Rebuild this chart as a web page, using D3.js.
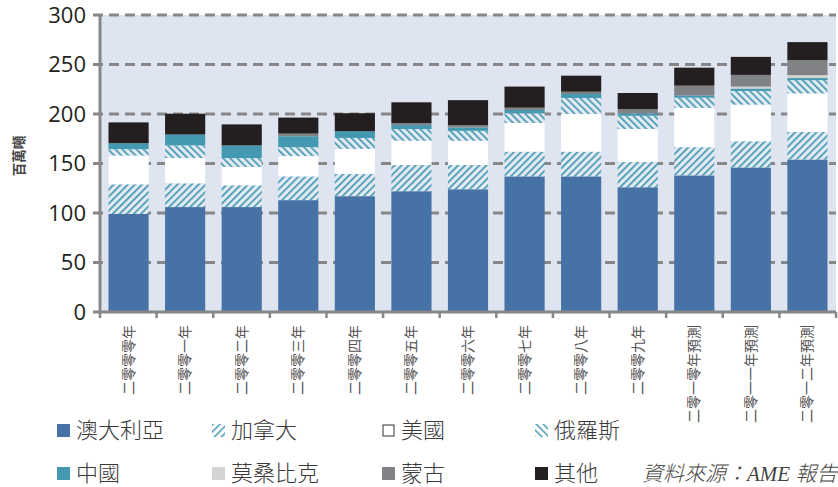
<!DOCTYPE html>
<html>
<head>
<meta charset="utf-8">
<script src="https://cdn.jsdelivr.net/npm/d3@7"></script>
<style>
  html, body { margin: 0; padding: 0; background: #ffffff; }
  svg { display: block; }
</style>
</head>
<body>
<svg id="chart" width="838" height="487"></svg>
<script>
// ---- data (million tonnes) ----
const categories = ["二零零零年","二零零一年","二零零二年","二零零三年","二零零四年","二零零五年","二零零六年","二零零七年","二零零八年","二零零九年","二零一零年預測","二零一一年預測","二零一二年預測"];
const australia  = [99, 106, 106, 113, 117, 122, 124, 137, 137, 126, 138, 146, 154];
const canada     = [30, 24, 22, 24, 22.5, 26.5, 24.5, 25, 25, 25.5, 28.5, 26.5, 27.8];
const usa        = [29, 25.5, 18.5, 20.5, 25.3, 24.5, 24.5, 29, 38, 33.3, 39.6, 37, 39];
const russia     = [6.5, 12.8, 9, 9, 11, 11.8, 10, 9.7, 16.2, 13.5, 10.4, 13.8, 13.4];
const china      = [6, 11, 12.8, 11, 6.8, 4, 3.4, 3.4, 4, 2.4, 2.3, 2.4, 2.1];
const mozambique = [0, 0, 0, 0, 0, 0, 0, 0, 0, 0, 0, 2, 3];
const mongolia   = [0, 0, 0, 2.7, 0, 2, 2.4, 2.3, 2.3, 4.3, 9.8, 11.8, 15.1];
const others     = [21, 21, 21.2, 16.2, 18.2, 21, 25.2, 21.3, 16.2, 16.2, 18.2, 18.2, 18.2];
const seriesNames = ["澳大利亞","加拿大","美國","俄羅斯","中國","莫桑比克","蒙古","其他"];
const yTicks = [0, 50, 100, 150, 200, 250, 300];
const yTitle = "百萬噸";
const sourceText = "資料來源：AME 報告";

// ---- build table ----
const seriesData = [australia, canada, usa, russia, china, mozambique, mongolia, others];
const keys = ["aus","can","usa","rus","chn","moz","mng","oth"];
const table = categories.map((c, i) => {
  const row = { cat: c };
  keys.forEach((k, j) => row[k] = seriesData[j][i]);
  return row;
});

const fills = {
  aus: "#4672a6",
  can: "url(#hatchCan)",
  usa: "#ffffff",
  rus: "url(#hatchRus)",
  chn: "#4499b0",
  moz: "#d1d3d4",
  mng: "#808285",
  oth: "#231f20"
};
const legendFills = Object.assign({}, fills, { can: "url(#legCan)", rus: "url(#legRus)" });

const svg = d3.select("#chart");
const defs = svg.append("defs");

function hatch(id, angle, bg, size, sw) {
  const p = defs.append("pattern")
    .attr("id", id).attr("patternUnits", "userSpaceOnUse")
    .attr("width", size).attr("height", size)
    .attr("patternTransform", `rotate(${angle})`);
  if (bg) p.append("rect").attr("width", size).attr("height", size).attr("fill", bg);
  p.append("rect").attr("x", 0).attr("y", 0).attr("width", sw).attr("height", size).attr("fill", "#4499b0");
}
hatch("hatchCan", 45, "#e3eaf3", 5, 1.7);
hatch("hatchRus", -45, "#e3eaf3", 5, 1.7);
hatch("legCan", 45, null, 5, 1.5);
hatch("legRus", -45, null, 5, 1.5);

// ---- scales ----
const pLeft = 100, pRight = 836, pTop = 15, pBottom = 312;
const x = d3.scaleBand().domain(categories).range([pLeft, pRight]).paddingInner(0.29).paddingOuter(0.15);
const y = d3.scaleLinear().domain([0, 300]).range([pBottom, pTop]);

// background
svg.append("rect")
  .attr("x", pLeft + 1).attr("y", y(300)).attr("width", pRight - 1 - pLeft).attr("height", y(0) - y(300))
  .attr("fill", "#dee5f1");

// grid
svg.append("g").selectAll("line").data(yTicks.filter(d => d > 0)).join("line")
  .attr("x1", pLeft - 7).attr("x2", pRight)
  .attr("y1", d => y(d)).attr("y2", d => y(d))
  .attr("stroke", "#878787").attr("stroke-width", 3)
  .attr("stroke-dasharray", "10,6");

// bars
const stack = d3.stack().keys(keys)(table);
svg.append("g").selectAll("g").data(stack).join("g")
  .attr("fill", d => fills[d.key])
  .selectAll("rect").data(d => d).join("rect")
  .attr("x", d => x(d.data.cat))
  .attr("width", x.bandwidth())
  .attr("y", d => y(d[1]))
  .attr("height", d => Math.max(0, y(d[0]) - y(d[1])));

// y axis
const yAxis = svg.append("g").attr("transform", `translate(${pLeft},0)`)
  .call(d3.axisLeft(y).tickValues(yTicks).tickSize(0).tickPadding(14));
yAxis.select(".domain").remove();
yAxis.selectAll("text")
  .attr("font-family", "'Open Sans', 'Noto Sans', sans-serif")
  .attr("font-size", 22).attr("fill", "#231f20");
svg.append("line").attr("x1", pLeft).attr("x2", pLeft).attr("y1", y(300)).attr("y2", y(0) + 1.5)
  .attr("stroke", "#878787").attr("stroke-width", 3);
svg.append("line").attr("x1", pLeft - 7).attr("x2", pLeft).attr("y1", y(0)).attr("y2", y(0))
  .attr("stroke", "#878787").attr("stroke-width", 3);

// x axis
const xAxis = svg.append("g").attr("transform", `translate(0,${pBottom})`)
  .call(d3.axisBottom(x).tickSize(0));
xAxis.select(".domain").remove();
xAxis.selectAll("text")
  .attr("transform", "rotate(-90)")
  .attr("x", -13).attr("y", 0).attr("dy", "0.36em")
  .attr("text-anchor", "end")
  .attr("font-family", "'Noto Sans CJK TC', sans-serif")
  .attr("font-size", 14).attr("fill", "#555555");
svg.append("line").attr("x1", pLeft).attr("x2", pRight).attr("y1", pBottom).attr("y2", pBottom)
  .attr("stroke", "#878787").attr("stroke-width", 3);
const boundaries = d3.range(categories.length + 1).map(i => x.range()[0] + i * (x.range()[1] - x.range()[0]) / categories.length);
svg.append("g").selectAll("line").data(boundaries).join("line")
  .attr("x1", d => d).attr("x2", d => d).attr("y1", pBottom).attr("y2", pBottom + 6)
  .attr("stroke", "#878787").attr("stroke-width", 2.5);

// y title
svg.append("text")
  .attr("transform", "translate(19,156) rotate(-90)")
  .attr("text-anchor", "middle").attr("dy", "0.36em")
  .attr("font-family", "'Noto Sans CJK TC', sans-serif")
  .attr("font-size", 13.5).attr("font-weight", "bold").attr("fill", "#444")
  .text(yTitle);

// legend
const legCols = [57, 212, 382, 535];
const legRows = [424, 467];
const legend = svg.append("g").selectAll("g").data(keys).join("g")
  .attr("transform", (d, i) => `translate(${legCols[i % 4]},${legRows[Math.floor(i / 4)]})`);
legend.append("rect")
  .attr("x", d => d === "usa" ? 1 : 0).attr("y", d => d === "usa" ? 1 : 0)
  .attr("width", d => d === "usa" ? 11 : 13).attr("height", d => d === "usa" ? 11 : 13)
  .attr("fill", d => legendFills[d])
  .attr("stroke", d => d === "usa" ? "#333" : "none").attr("stroke-width", 1);
legend.append("text")
  .attr("x", 19).attr("y", 6.5).attr("dy", "0.36em")
  .attr("font-family", "'Noto Sans CJK TC', sans-serif")
  .attr("font-size", 22).attr("font-weight", 300).attr("fill", "#3a3a3a")
  .text((d, i) => seriesNames[i]);

svg.append("text")
  .attr("x", 642).attr("y", 473.5).attr("dy", "0.36em")
  .attr("font-family", "'Liberation Serif', 'Noto Sans CJK TC', serif")
  .attr("font-style", "italic").attr("font-weight", 300).attr("font-size", 21).attr("fill", "#444")
  .text(sourceText);
</script>
</body>
</html>
